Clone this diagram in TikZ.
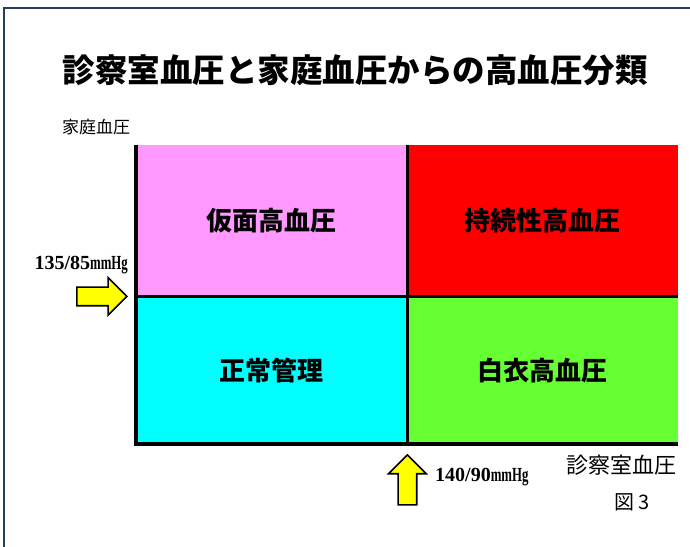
\documentclass[tikz,border=0pt]{standalone}
\usepackage{fontspec}
\setmainfont{Liberation Serif}
\newfontfamily\jp{Noto Sans CJK JP}
\usetikzlibrary{positioning,shapes.arrows}
\definecolor{bpFrame}{RGB}{38,60,100}
\definecolor{bpPink}{RGB}{255,153,255}
\definecolor{bpRed}{RGB}{255,0,0}
\definecolor{bpCyan}{RGB}{0,255,255}
\definecolor{bpGreen}{RGB}{102,255,51}
\definecolor{bpYellow}{RGB}{255,255,0}
\tikzset{
    base/.style={align=center, inner sep=0pt},
    cell/.style={base, rectangle, minimum width=271pt, minimum height=151pt,
                 font=\jp\bfseries\fontsize{26}{30}\selectfont},
    axis/.style={base, font=\jp\fontsize{20}{24}\selectfont},
    level/.style={base, font=\bfseries\fontsize{20}{24}\selectfont},
    marker/.style={single arrow, draw=black, line width=1.6pt, fill=bpYellow,
                   minimum height=50pt, minimum width=0pt, inner sep=8.5pt,
                   single arrow head extend=9.5pt, single arrow head indent=0pt},
    border/.style={line width=3.5pt, black}
}
\newcommand{\unitHg}{\scalebox{0.64}[1]{mmHg}}

\begin{document}
\begin{tikzpicture}[x=1pt, y=-1pt]
  \useasboundingbox (0,0) rectangle (690,546);
  % Outer frame
  \draw[bpFrame, line width=2pt] (4,560) -- (4,8) -- (700,8);

  % Title and axis names
  \node[base, font=\jp\bfseries\fontsize{32.5}{36}\selectfont] (title) at (355,70)
    {診察室血圧と家庭血圧からの高血圧分類};
  \node[axis, font=\jp\fontsize{17}{20}\selectfont, anchor=west] (homeAxis) at (62,127) {家庭血圧};

  % Four classes
  \node[cell, fill=bpPink, anchor=north west] (mask) at (136,145) {仮面高血圧};
  \node[cell, fill=bpRed, right=0pt of mask, minimum width=270pt] (sustained) {持続性高血圧};
  \node[cell, fill=bpCyan, below=0pt of mask, minimum height=147pt] (normal) {正常管理};
  \node[cell, fill=bpGreen, below=0pt of sustained, minimum width=270pt,
        minimum height=147pt] (white) {白衣高血圧};

  % Borders
  \draw[border] (mask.north west) -- (normal.south west) -- (white.south east);
  \draw[border] (sustained.north west) -- (white.south west);
  \draw[border] (normal.north west) -- (white.north east);

  % Thresholds
  \node[marker, anchor=tip] (homeMark) at ([xshift=-8pt]mask.south west) {};
  \node[level, anchor=east] (homeLevel) at (128,265) {135/85\unitHg};
  \node[marker, shape border rotate=90, anchor=tip] (officeMark) at ([yshift=-10pt]white.south west) {};
  \node[level, anchor=west] (officeLevel) at (435,477) {140/90\unitHg};

  \node[axis, font=\jp\fontsize{22}{26}\selectfont, anchor=east] (officeAxis) at (677,465) {診察室血圧};
  \node[axis, font=\jp\fontsize{20}{24}\selectfont] (figNo) at (632,502) {図 3};
\end{tikzpicture}
\end{document}
